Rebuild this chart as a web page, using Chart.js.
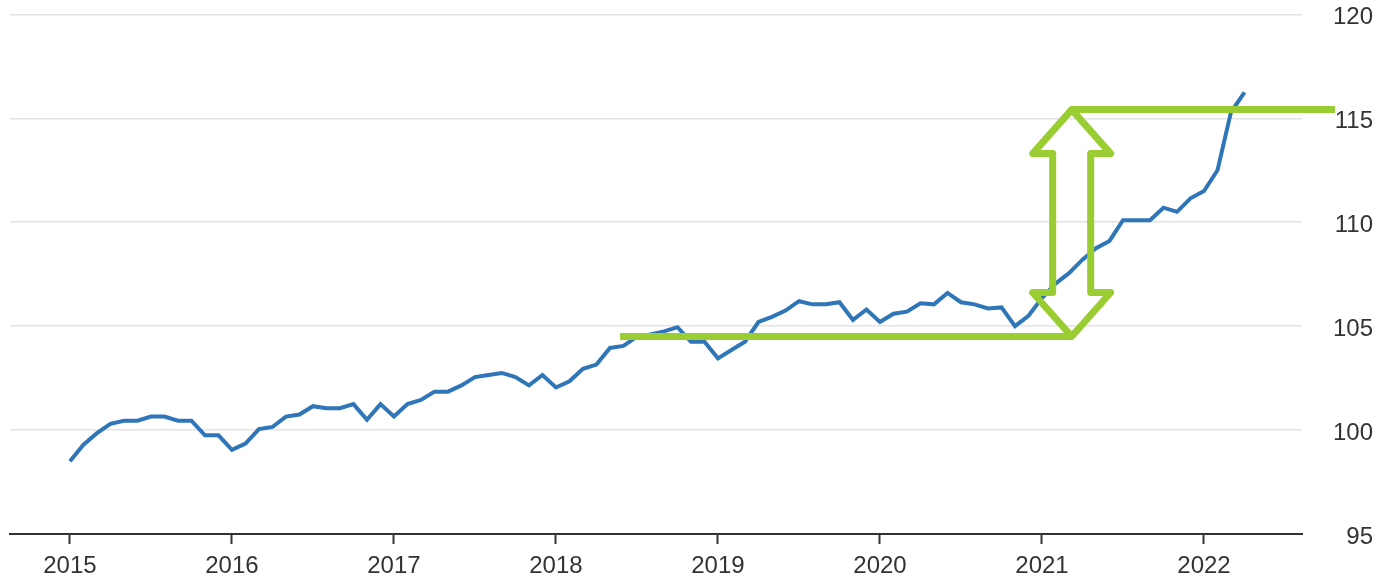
<!DOCTYPE html>
<html>
<head>
<meta charset="utf-8">
<script src="https://cdn.jsdelivr.net/npm/chart.js@4.4.1/dist/chart.umd.min.js"></script>
<style>
  html, body { margin: 0; padding: 0; background: #fff; }
  #wrap { width: 1382px; height: 579px; }
</style>
</head>
<body>
<div id="wrap"><canvas id="grafica"></canvas></div>
<script>
// monthly index, Jan 2015 = month 0
const valores = [
    98.5, 99.3, 99.85, 100.3, 100.45, 100.45, 100.65, 100.65, 100.45, 100.45, 99.75, 99.75,
    99.05, 99.35, 100.05, 100.15, 100.65, 100.75, 101.15, 101.05, 101.05, 101.25, 100.5, 101.25,
    100.65, 101.25, 101.45, 101.85, 101.85, 102.15, 102.55, 102.65, 102.75, 102.55, 102.15, 102.65,
    102.05, 102.35, 102.95, 103.15, 103.95, 104.05, 104.5, 104.6, 104.75, 104.95, 104.25, 104.25,
    103.45, 103.85, 104.25, 105.2, 105.45, 105.75, 106.2, 106.05, 106.05, 106.15, 105.3, 105.8,
    105.2, 105.6, 105.7, 106.1, 106.05, 106.6, 106.15, 106.05, 105.85, 105.9, 105.0, 105.5,
    106.35, 107.05, 107.55, 108.2, 108.75, 109.1, 110.1, 110.1, 110.1, 110.7, 110.5, 111.15,
    111.5, 112.5, 115.3, 116.25
];
const anios = ['2015', '2016', '2017', '2018', '2019', '2020', '2021', '2022'];
const mesesTick = [0, 12, 24, 36, 48, 60, 72, 84];
const yTicks = [95, 100, 105, 110, 115, 120];

// annotation levels (data units)
const nivelBajo = 104.5;
const nivelAlto = 115.42;
const mesFlecha = 74.2;
const bajoDesde = 40.75;
const altoHasta = 93.7;

const verde = '#9acd32';
const azul = '#2f76b9';
const texto = '#333333';

const flecha = {
    id: 'flecha',
    afterDatasetsDraw(chart) {
        const { ctx, scales: { x, y } } = chart;
        const cx = x.getPixelForValue(mesFlecha);
        const arriba = y.getPixelForValue(nivelAlto);
        const abajo = y.getPixelForValue(nivelBajo);
        const cabeza = 39, cuerpo = 19, largo = 44;
        ctx.save();
        ctx.strokeStyle = verde;
        ctx.lineWidth = 7;
        ctx.lineJoin = 'round';
        ctx.beginPath();
        ctx.moveTo(x.getPixelForValue(bajoDesde), abajo);
        ctx.lineTo(cx, abajo);
        ctx.moveTo(cx, arriba);
        ctx.lineTo(x.getPixelForValue(altoHasta), arriba);
        ctx.stroke();
        ctx.beginPath();
        ctx.moveTo(cx, arriba);
        ctx.lineTo(cx + cabeza, arriba + largo);
        ctx.lineTo(cx + cuerpo, arriba + largo);
        ctx.lineTo(cx + cuerpo, abajo - largo);
        ctx.lineTo(cx + cabeza, abajo - largo);
        ctx.lineTo(cx, abajo);
        ctx.lineTo(cx - cabeza, abajo - largo);
        ctx.lineTo(cx - cuerpo, abajo - largo);
        ctx.lineTo(cx - cuerpo, arriba + largo);
        ctx.lineTo(cx - cabeza, arriba + largo);
        ctx.closePath();
        ctx.stroke();
        ctx.restore();
    }
};

const ctx = document.getElementById('grafica').getContext('2d');
const myChart = new Chart(ctx, {
    type: 'line',
    data: {
        datasets: [{
            data: valores.map((v, i) => ({ x: i, y: v })),
            borderColor: azul,
            borderWidth: 4,
            pointRadius: 0,
            tension: 0,
            fill: false
        }]
    },
    plugins: [flecha],
    options: {
        responsive: true,
        maintainAspectRatio: false,
        animation: false,
        layout: { padding: { left: 10, right: 9, top: 0, bottom: 0 } },
        plugins: { legend: { display: false }, tooltip: { enabled: false } },
        scales: {
            x: {
                type: 'linear',
                min: -4.44,
                max: 91.26,
                afterBuildTicks: s => { s.ticks = mesesTick.map(v => ({ value: v })); },
                afterFit: s => { s.height = 45; },
                ticks: {
                    autoSkip: false,
                    maxRotation: 0,
                    color: texto,
                    padding: 8,
                    font: { family: '"Liberation Sans", Arial, sans-serif', size: 24 },
                    callback: v => anios[mesesTick.indexOf(v)]
                },
                grid: {
                    drawOnChartArea: false,
                    drawTicks: true,
                    tickLength: 10,
                    tickColor: texto,
                    tickWidth: 2
                },
                border: { display: true, color: texto, width: 2 }
            },
            y: {
                position: 'right',
                min: 95,
                max: 120,
                afterBuildTicks: s => { s.ticks = yTicks.map(v => ({ value: v })); },
                afterFit: s => { s.width = 71; },
                ticks: {
                    color: texto,
                    crossAlign: 'far',
                    padding: 0,
                    labelOffset: 3,
                    font: { family: '"Liberation Sans", Arial, sans-serif', size: 24 }
                },
                grid: { color: '#e3e3e3', lineWidth: 1.5, drawTicks: false },
                border: { display: false }
            }
        }
    }
});
</script>
</body>
</html>
